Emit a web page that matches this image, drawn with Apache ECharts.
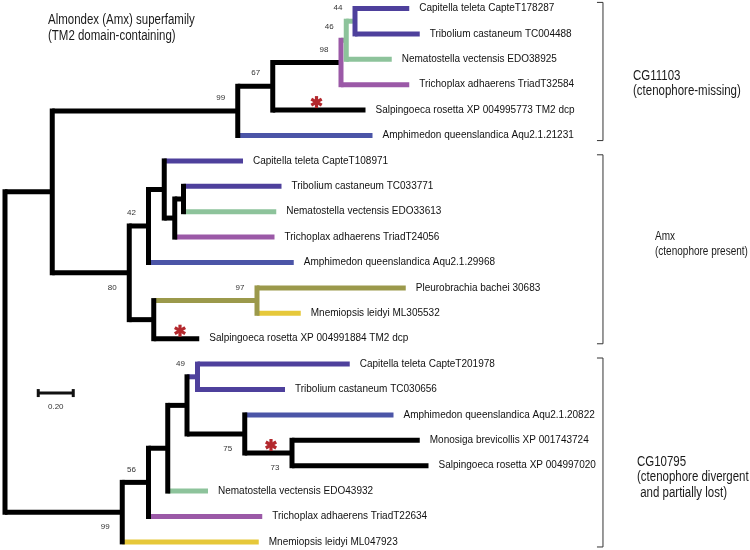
<!DOCTYPE html>
<html><head><meta charset="utf-8">
<script src="https://cdn.jsdelivr.net/npm/echarts@6/dist/echarts.min.js"></script>
<style>html,body{margin:0;padding:0;background:#fff}#c{width:750px;height:550px}</style>
</head><body><div id="c"></div>
<script>
// ---------------- DATA ----------------
const leafNames = [
  'Capitella teleta CapteT178287',
  'Tribolium castaneum TC004488',
  'Nematostella vectensis EDO38925',
  'Trichoplax adhaerens TriadT32584',
  'Salpingoeca rosetta XP 004995773 TM2 dcp',
  'Amphimedon queenslandica Aqu2.1.21231',
  'Capitella teleta CapteT108971',
  'Tribolium castaneum TC033771',
  'Nematostella vectensis EDO33613',
  'Trichoplax adhaerens TriadT24056',
  'Amphimedon queenslandica Aqu2.1.29968',
  'Pleurobrachia bachei 30683',
  'Mnemiopsis leidyi ML305532',
  'Salpingoeca rosetta XP 004991884 TM2 dcp',
  'Capitella teleta CapteT201978',
  'Tribolium castaneum TC030656',
  'Amphimedon queenslandica Aqu2.1.20822',
  'Monosiga brevicollis XP 001743724',
  'Salpingoeca rosetta XP 004997020',
  'Nematostella vectensis EDO43932',
  'Trichoplax adhaerens TriadT22634',
  'Mnemiopsis leidyi ML047923'
];
// distance of each tip from the root (substitutions per site)
const leafDepth = [2.31, 2.37, 2.21, 2.31, 2.06, 2.10,
                   1.36, 1.58, 1.55, 1.54, 1.65, 2.29, 1.69, 1.11,
                   1.97, 1.60, 2.22, 2.37, 2.42, 1.16, 1.47, 1.45];
// internal nodes
const nodeIds      = ['root','a','b','c','d','e','f','g','h','i','j','k','l','m','n','o','p','q','r','s','t'];
const nodeDepth    = [0, 0.27, 1.33, 1.53, 1.92, 1.95, 2.00, 0.71, 0.82, 0.91, 0.97, 1.02, 0.85, 1.44, 0.67, 0.82, 0.93, 1.04, 1.10, 1.37, 1.64];
const nodeChildren = [['a','n'],['b','g'],['c',5],['d',4],['e',3],['f',2],[0,1],
                      ['h','l'],['i',10],[6,'j'],['k',9],[7,8],['m',13],[11,12],
                      ['o',21],['p',20],['q',19],['r','s'],[14,15],[16,'t'],[17,18]];
const nodeSupport  = [null,null,99,67,98,46,44,80,42,null,null,null,null,97,99,56,null,null,49,75,73];
// clades (brackets)
const cladeFirstLeaf = [0, 6, 14];
const cladeLastLeaf  = [5, 13, 21];
const cladeLines = [['CG11103','(ctenophore-missing)'],
                    ['Amx','(ctenophore present)'],
                    ['CG10795','(ctenophore divergent',' and partially lost)']];
// red asterisks: branch (leaf index or node id) and position along it
const markBranch = [4, 13, 't'];
const markDepth  = [1.78, 1.00, 1.52];
// scale bar
const scaleLength = 0.20;
const scaleLabel = '0.20';
const titleLines = ['Almondex (Amx) superfamily', '(TM2 domain-containing)'];

// ---------------- STYLE / LAYOUT ----------------
const genusColor = {
  Capitella:'#4e409c', Tribolium:'#4e409c', Amphimedon:'#4b55a7',
  Nematostella:'#8dc39b', Trichoplax:'#9b59a7', Pleurobrachia:'#9b994b',
  Mnemiopsis:'#e6c83a', Salpingoeca:'#000000', Monosiga:'#000000'
};
const nodeVertColor = {f:'#4e409c', e:'#8dc39b', d:'#9b59a7', m:'#9b994b', r:'#4e409c'};
const nodeStemColor = {f:'#8dc39b', e:'#8dc39b', m:'#9b994b', r:'#4e409c'};
const supportBelow = {g:true, s:true, t:true, n:true};
const LW = 5;

// ---------------- TREE GEOMETRY ----------------
const nodeIndex = {}; nodeIds.forEach((id,i)=>nodeIndex[id]=i);
function isLeaf(c){ return typeof c === 'number'; }
const nodeY = {};
function yOf(c){
  if (isLeaf(c)) return c;
  if (nodeY[c] !== undefined) return nodeY[c];
  const ch = nodeChildren[nodeIndex[c]];
  const v = (yOf(ch[0]) + yOf(ch[ch.length-1]))/2;
  nodeY[c] = v; return v;
}
function depthOf(c){ return isLeaf(c) ? leafDepth[c] : nodeDepth[nodeIndex[c]]; }
function colorOfLeaf(i){ return genusColor[leafNames[i].split(' ')[0]] || '#000'; }
nodeIds.forEach(id=>yOf(id));

const segs = []; // [x1,y1,x2,y2,color,kind]
nodeIds.forEach((id,ni)=>{
  const ch = nodeChildren[ni];
  const x = nodeDepth[ni];
  segs.push([x, yOf(ch[0]), x, yOf(ch[ch.length-1]), nodeVertColor[id]||'#000', 'v']);
  ch.forEach(c=>{
    const col = isLeaf(c) ? colorOfLeaf(c) : (nodeStemColor[c]||'#000');
    segs.push([x, yOf(c), depthOf(c), yOf(c), col, 'h']);
  });
});
segs.sort((a,b)=> (a[5]==='h'?0:1) - (b[5]==='h'?0:1));

const chart = echarts.init(document.getElementById('c'), null, {renderer:'canvas'});
const FONT = '"Liberation Sans", Arial, sans-serif';

function narrowText(t, x, y, size, sx){
  return {type:'text', x:x, y:y, scaleX:sx, scaleY:1,
    style:{text:t, font:size+'px '+FONT, fill:'#1a1a1a', verticalAlign:'middle', align:'left'}};
}
const graphics = [];
titleLines.forEach((t,k)=>graphics.push(narrowText(t, 48, 20+k*16, 14, 0.82)));
const cladeLabelPos = [[633,76],[655,236],[637,462]];
const cladeLabelSize = [14, 13, 14];
const cladeLabelScale = [0.82, 0.77, 0.82];
const cladeLineGap = [15.5, 15, 15.5];
cladeLines.forEach((lines,ci)=>{
  lines.forEach((t,k)=>graphics.push(narrowText(t, cladeLabelPos[ci][0], cladeLabelPos[ci][1]+k*cladeLineGap[ci], cladeLabelSize[ci], cladeLabelScale[ci])));
});

const option = {
  animation:false,
  backgroundColor:'#ffffff',
  grid:{left:5, top:8.5, width:700, height:533.4},
  xAxis:{type:'value', min:0, max:4, show:false},
  yAxis:{type:'value', min:0, max:21, inverse:true, show:false},
  graphic: graphics,
  series:[
    { // branches
      type:'custom', coordinateSystem:'cartesian2d', silent:true,
      data: segs.map(s=>[s[0],s[1],s[2],s[3]]),
      encode:{x:[0,2], y:[1,3]},
      renderItem:(params, api)=>{
        const s = segs[params.dataIndex];
        const p1 = api.coord([api.value(0), api.value(1)]);
        const p2 = api.coord([api.value(2), api.value(3)]);
        return {type:'line', shape:{x1:p1[0], y1:p1[1], x2:p2[0], y2:p2[1]},
          style:{stroke:s[4], lineWidth:LW, lineCap: s[5]==='v' ? 'square' : 'butt'}};
      }
    },
    { // leaf labels
      type:'custom', coordinateSystem:'cartesian2d', silent:true,
      data: leafNames.map((n,i)=>[leafDepth[i], i]),
      renderItem:(params, api)=>{
        const p = api.coord([api.value(0), api.value(1)]);
        return {type:'text', x:p[0]+10, y:p[1],
          style:{text:leafNames[params.dataIndex], font:'10px '+FONT, fill:'#111', align:'left', verticalAlign:'middle'}};
      }
    },
    { // support values
      type:'custom', coordinateSystem:'cartesian2d', silent:true,
      data: nodeIds.map((id,i)=>[nodeDepth[i], yOf(id), nodeSupport[i]]).filter(d=>d[2]!==null),
      renderItem:(params, api)=>{
        const p = api.coord([api.value(0), api.value(1)]);
        const id = nodeIds.filter((x,i)=>nodeSupport[i]!==null)[params.dataIndex];
        const dy = supportBelow[id] ? 15 : -13;
        return {type:'text', x:p[0]-17, y:p[1]+dy,
          style:{text:String(api.value(2)), font:'8px '+FONT, fill:'#333', align:'center', verticalAlign:'middle'}};
      }
    },
    { // red asterisks
      type:'custom', coordinateSystem:'cartesian2d', silent:true,
      data: markBranch.map((b,i)=>[markDepth[i], yOf(b)]),
      renderItem:(params, api)=>{
        const p = api.coord([api.value(0), api.value(1)]);
        const cx = p[0], cy = p[1]-8, r = 6;
        const children = [90, 30, 150].map(a=>{
          const t = a*Math.PI/180;
          return {type:'line', shape:{x1:cx-r*Math.cos(t), y1:cy-r*Math.sin(t), x2:cx+r*Math.cos(t), y2:cy+r*Math.sin(t)},
            style:{stroke:'#b3282d', lineWidth:3.2}};
        });
        return {type:'group', children};
      }
    },
    { // clade brackets
      type:'custom', coordinateSystem:'cartesian2d', silent:true,
      data: cladeFirstLeaf.map((f,i)=>[3.417, f-0.24, cladeLastLeaf[i]+0.2]),
      renderItem:(params, api)=>{
        const t = api.coord([api.value(0), api.value(1)]);
        const b = api.coord([api.value(0), api.value(2)]);
        return {type:'polyline', shape:{points:[[t[0]-6,t[1]],[t[0],t[1]],[b[0],b[1]],[b[0]-6,b[1]]]},
          style:{stroke:'#333', lineWidth:1, fill:null}};
      }
    },
    { // scale bar
      type:'custom', coordinateSystem:'cartesian2d', silent:true,
      data: [[0.19, 15.14, 0.19+scaleLength]],
      renderItem:(params, api)=>{
        const a = api.coord([api.value(0), api.value(1)]);
        const b = api.coord([api.value(2), api.value(1)]);
        return {type:'group', children:[
          {type:'line', shape:{x1:a[0], y1:a[1], x2:b[0], y2:b[1]}, style:{stroke:'#111', lineWidth:3}},
          {type:'line', shape:{x1:a[0], y1:a[1]-4, x2:a[0], y2:a[1]+4}, style:{stroke:'#111', lineWidth:3}},
          {type:'line', shape:{x1:b[0], y1:b[1]-4, x2:b[0], y2:b[1]+4}, style:{stroke:'#111', lineWidth:3}},
          {type:'text', x:(a[0]+b[0])/2, y:a[1]+14, style:{text:scaleLabel, font:'8px '+FONT, fill:'#333', align:'center', verticalAlign:'middle'}}
        ]};
      }
    }
  ]
};
chart.setOption(option);
</script>
</body></html>
